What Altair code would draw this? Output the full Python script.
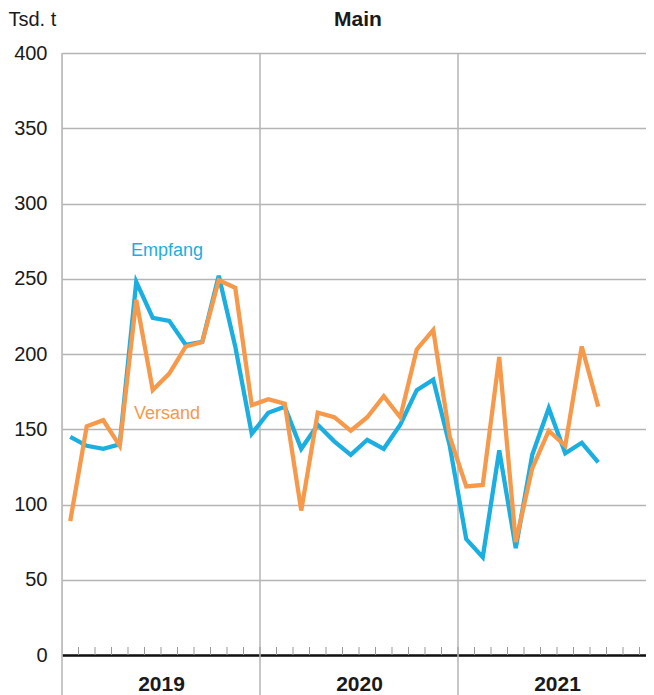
import altair as alt
import pandas as pd

# ---- data (monthly, Jan 2019 .. Sep 2021) ----
months = list(range(33))
empfang = [145, 139, 137, 140, 248, 224, 222, 206, 208, 252, 205, 147,
           161, 165, 137, 153, 142, 133, 143, 137, 153, 176, 183, 139,
           77, 65, 136, 71, 133, 164, 134, 141, 128]
versand = [89, 152, 156, 139, 236, 176, 187, 205, 208, 249, 244, 166,
           170, 167, 96, 161, 158, 149, 158, 172, 158, 203, 216, 145,
           112, 113, 198, 75, 124, 149, 139, 205, 165]
years = ["2019", "2020", "2021"]
year_bounds = [0, 12, 24]
month_ticks = list(range(1, 36))
y_ticks = list(range(0, 401, 50))

BLUE = "#1BAEE0"
ORANGE = "#F7994B"
W, H = 584, 602
X_MAX = 36 * W / 594.0   # last year runs past the right edge of the page, as in the reference
FONT = "Liberation Sans"

df = pd.DataFrame({"m": [i + 0.5 for i in months], "Empfang": empfang, "Versand": versand})

label_expr = "[" + ",".join(f"'{y}'" for y in years) + "][floor(datum.value/12)]"

xscale = alt.Scale(domain=[0, X_MAX], nice=False, zero=False)
yscale = alt.Scale(domain=[0, 400], nice=False)

x_axis = alt.Axis(values=[6, 18, 30], labelExpr=label_expr, ticks=False, grid=False,
                  domainColor="#111111", domainWidth=2.5, labelFontSize=21,
                  labelFontWeight="bold", labelColor="#1a1a1a", labelPadding=18,
                  title=None)
y_axis = alt.Axis(values=y_ticks, grid=True, gridColor="#b4b4b4", gridWidth=1.5,
                  domain=False, ticks=False, labelFontSize=20, labelColor="#1a1a1a",
                  labelPadding=15, title="Tsd. t", titleAngle=0, titleAlign="left",
                  titleBaseline="middle", titleX=-54, titleY=-34,
                  titleFontWeight="normal", titleFontSize=20, titleColor="#1a1a1a")

emp_line = alt.Chart(df).mark_line(strokeWidth=4.3, color=BLUE).encode(
    x=alt.X("m:Q", scale=xscale, axis=x_axis),
    y=alt.Y("Empfang:Q", scale=yscale, axis=y_axis))
ver_line = alt.Chart(df).mark_line(strokeWidth=4.3, color=ORANGE).encode(
    x=alt.X("m:Q", scale=xscale), y=alt.Y("Versand:Q", scale=yscale))

yr_df = pd.DataFrame({"b": year_bounds})
year_rules = alt.Chart(yr_df).mark_rule(color="#b4b4b4", strokeWidth=1.5).encode(
    x=alt.X("b:Q", scale=xscale), y=alt.value(0), y2=alt.value(H + 40))

mt_df = pd.DataFrame({"t": month_ticks})
month_rules = alt.Chart(mt_df).mark_rule(color="#999999", strokeWidth=1).encode(
    x=alt.X("t:Q", scale=xscale), y=alt.value(H - 8), y2=alt.value(H))

txt_df = pd.DataFrame({"name": ["Empfang", "Versand", "Main"]})
lab_emp = alt.Chart(txt_df.iloc[[0]]).mark_text(fontSize=18, color=BLUE, font=FONT).encode(
    text="name:N", x=alt.value(105), y=alt.value(198))
lab_ver = alt.Chart(txt_df.iloc[[1]]).mark_text(fontSize=18, color=ORANGE, font=FONT).encode(
    text="name:N", x=alt.value(105), y=alt.value(361))
title_txt = alt.Chart(txt_df.iloc[[2]]).mark_text(
    fontSize=21, fontWeight="bold", color="#1a1a1a", font=FONT).encode(
    text="name:N", x=alt.value(296), y=alt.value(-33))

chart = alt.layer(
    year_rules, month_rules, emp_line, ver_line, lab_emp, lab_ver, title_txt
).properties(
    width=W, height=H,
    autosize=alt.AutoSizeParams(type="none"),
    padding={"left": 54, "top": 45, "right": 0, "bottom": 40},
).configure_view(stroke=None).configure(font=FONT)

chart.save("out.html", embed_options={"renderer": "svg", "actions": False})
